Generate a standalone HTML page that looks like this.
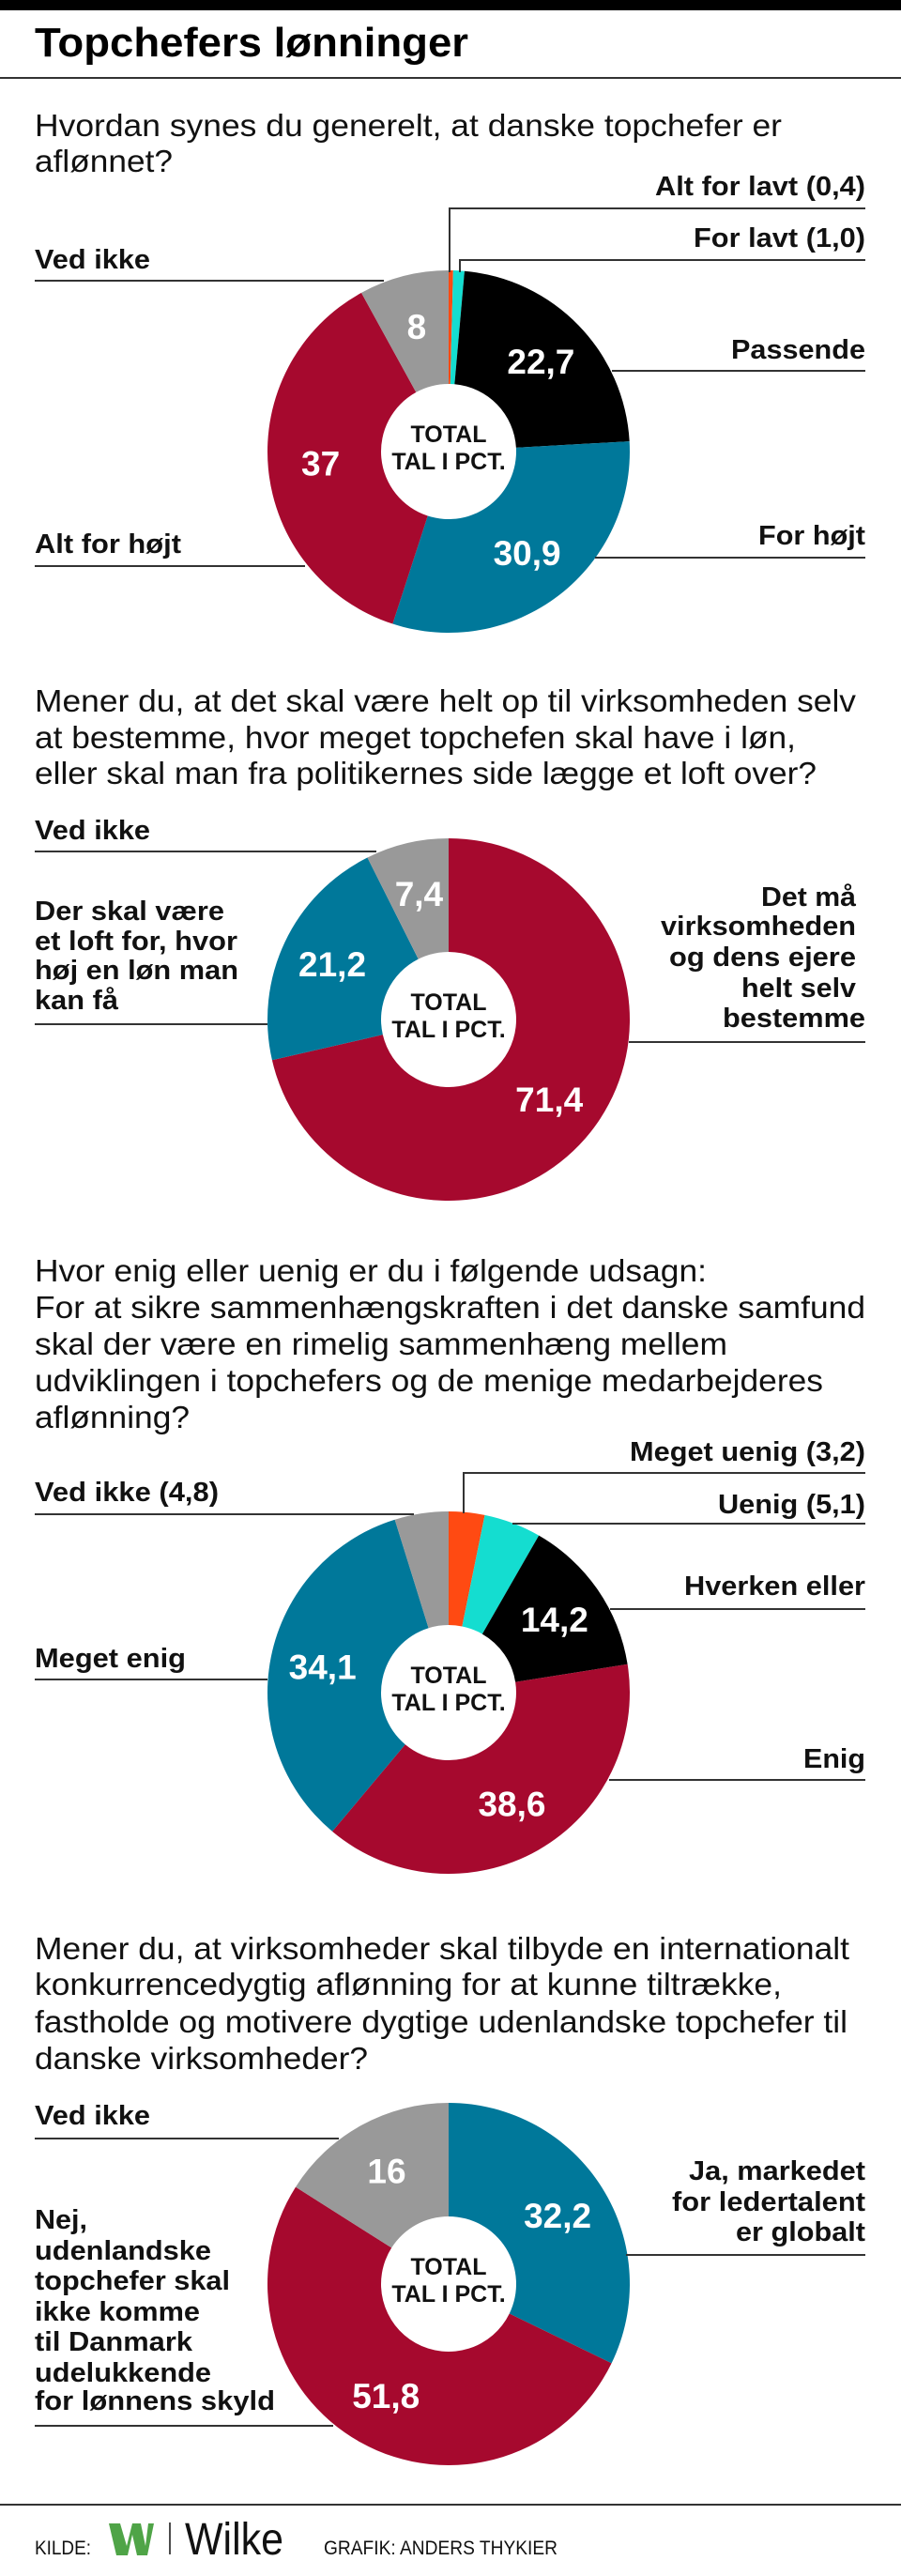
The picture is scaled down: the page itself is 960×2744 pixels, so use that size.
<!DOCTYPE html>
<html><head><meta charset="utf-8"><style>
html,body{margin:0;padding:0;background:#fff;}
svg{display:block;}
text{font-family:"Liberation Sans",sans-serif;}
.q{font-size:33px;fill:#111;}
.l{font-size:29px;font-weight:bold;fill:#111;}
.v{font-size:37px;font-weight:bold;fill:#fff;text-anchor:middle;dominant-baseline:central;}
.c{font-size:25px;font-weight:bold;fill:#111;text-anchor:middle;}
.ln{stroke:#333;stroke-width:2;fill:none;}
</style></head><body>
<svg id="root" width="960" height="2744" viewBox="0 0 960 2744" xmlns="http://www.w3.org/2000/svg">
<rect x="0" y="0" width="960" height="11" fill="#000"/>
<text x="37" y="60" font-size="44" font-weight="bold" textLength="462" lengthAdjust="spacingAndGlyphs">Topchefers lønninger</text>
<line x1="0" y1="83" x2="960" y2="83" class="ln"/>

<!-- Chart 1 -->
<g>
<text class="q" x="37" y="145" textLength="796" lengthAdjust="spacingAndGlyphs">Hvordan synes du generelt, at danske topchefer er</text>
<text class="q" x="37" y="183" textLength="147" lengthAdjust="spacingAndGlyphs">aflønnet?</text>
</g>
<g id="pie1"></g>
<g>
<text class="l" x="698" y="208" textLength="224" lengthAdjust="spacingAndGlyphs">Alt for lavt (0,4)</text>
<polyline class="ln" points="479,290 479,222 922,222"/>
<text class="l" x="739" y="263" textLength="183" lengthAdjust="spacingAndGlyphs">For lavt (1,0)</text>
<polyline class="ln" points="490,290 490,277 922,277"/>
<text class="l" x="37" y="286" textLength="123" lengthAdjust="spacingAndGlyphs">Ved ikke</text>
<line class="ln" x1="37" y1="299" x2="409" y2="299"/>
<text class="l" x="779" y="382" textLength="143" lengthAdjust="spacingAndGlyphs">Passende</text>
<line class="ln" x1="652" y1="395" x2="922" y2="395"/>
<text class="l" x="37" y="589" textLength="156" lengthAdjust="spacingAndGlyphs">Alt for højt</text>
<line class="ln" x1="37" y1="603" x2="325" y2="603"/>
<text class="l" x="808" y="580" textLength="114" lengthAdjust="spacingAndGlyphs">For højt</text>
<line class="ln" x1="634" y1="594" x2="922" y2="594"/>
</g>

<!-- Chart 2 -->
<g>
<text class="q" x="37" y="758" textLength="875" lengthAdjust="spacingAndGlyphs">Mener du, at det skal være helt op til virksomheden selv</text>
<text class="q" x="37" y="797" textLength="811" lengthAdjust="spacingAndGlyphs">at bestemme, hvor meget topchefen skal have i løn,</text>
<text class="q" x="37" y="835" textLength="833" lengthAdjust="spacingAndGlyphs">eller skal man fra politikernes side lægge et loft over?</text>
</g>
<g id="pie2"></g>
<g>
<text class="l" x="37" y="894" textLength="123" lengthAdjust="spacingAndGlyphs">Ved ikke</text>
<line class="ln" x1="37" y1="907" x2="401" y2="907"/>
<g>
<text class="l" x="37" y="980" textLength="202" lengthAdjust="spacingAndGlyphs">Der skal være</text>
<text class="l" x="37" y="1012" textLength="216" lengthAdjust="spacingAndGlyphs">et loft for, hvor</text>
<text class="l" x="37" y="1043" textLength="217" lengthAdjust="spacingAndGlyphs">høj en løn man</text>
<text class="l" x="37" y="1075" textLength="89" lengthAdjust="spacingAndGlyphs">kan få</text>
</g>
<line class="ln" x1="37" y1="1091" x2="285" y2="1091"/>
<g>
<text class="l" x="811" y="965" textLength="101" lengthAdjust="spacingAndGlyphs">Det må</text>
<text class="l" x="704" y="996" textLength="208" lengthAdjust="spacingAndGlyphs">virksomheden</text>
<text class="l" x="713" y="1029" textLength="199" lengthAdjust="spacingAndGlyphs">og dens ejere</text>
<text class="l" x="790" y="1062" textLength="122" lengthAdjust="spacingAndGlyphs">helt selv</text>
<text class="l" x="770" y="1094" textLength="152" lengthAdjust="spacingAndGlyphs">bestemme</text>
</g>
<line class="ln" x1="670" y1="1110" x2="922" y2="1110"/>
</g>

<!-- Chart 3 -->
<g>
<text class="q" x="37" y="1365" textLength="716" lengthAdjust="spacingAndGlyphs">Hvor enig eller uenig er du i følgende udsagn:</text>
<text class="q" x="37" y="1404" textLength="885" lengthAdjust="spacingAndGlyphs">For at sikre sammenhængskraften i det danske samfund</text>
<text class="q" x="37" y="1443" textLength="738" lengthAdjust="spacingAndGlyphs">skal der være en rimelig sammenhæng mellem</text>
<text class="q" x="37" y="1482" textLength="840" lengthAdjust="spacingAndGlyphs">udviklingen i topchefers og de menige medarbejderes</text>
<text class="q" x="37" y="1521" textLength="165" lengthAdjust="spacingAndGlyphs">aflønning?</text>
</g>
<g id="pie3"></g>
<g>
<text class="l" x="671" y="1556" textLength="251" lengthAdjust="spacingAndGlyphs">Meget uenig (3,2)</text>
<polyline class="ln" points="494,1612 494,1569 922,1569"/>
<text class="l" x="765" y="1612" textLength="157" lengthAdjust="spacingAndGlyphs">Uenig (5,1)</text>
<line class="ln" x1="546" y1="1623" x2="922" y2="1623"/>
<text class="l" x="37" y="1599" textLength="196" lengthAdjust="spacingAndGlyphs">Ved ikke (4,8)</text>
<line class="ln" x1="37" y1="1613" x2="441" y2="1613"/>
<text class="l" x="729" y="1699" textLength="193" lengthAdjust="spacingAndGlyphs">Hverken eller</text>
<line class="ln" x1="650" y1="1714" x2="922" y2="1714"/>
<text class="l" x="37" y="1776" textLength="161" lengthAdjust="spacingAndGlyphs">Meget enig</text>
<line class="ln" x1="37" y1="1789" x2="285" y2="1789"/>
<text class="l" x="856" y="1883" textLength="66" lengthAdjust="spacingAndGlyphs">Enig</text>
<line class="ln" x1="649" y1="1896" x2="922" y2="1896"/>
</g>

<!-- Chart 4 -->
<g>
<text class="q" x="37" y="2087" textLength="868" lengthAdjust="spacingAndGlyphs">Mener du, at virksomheder skal tilbyde en internationalt</text>
<text class="q" x="37" y="2125" textLength="796" lengthAdjust="spacingAndGlyphs">konkurrencedygtig aflønning for at kunne tiltrække,</text>
<text class="q" x="37" y="2165" textLength="866" lengthAdjust="spacingAndGlyphs">fastholde og motivere dygtige udenlandske topchefer til</text>
<text class="q" x="37" y="2204" textLength="355" lengthAdjust="spacingAndGlyphs">danske virksomheder?</text>
</g>
<g id="pie4"></g>
<g>
<text class="l" x="37" y="2263" textLength="123" lengthAdjust="spacingAndGlyphs">Ved ikke</text>
<line class="ln" x1="37" y1="2278" x2="361" y2="2278"/>
<g>
<text class="l" x="37" y="2374" textLength="56" lengthAdjust="spacingAndGlyphs">Nej,</text>
<text class="l" x="37" y="2407" textLength="188" lengthAdjust="spacingAndGlyphs">udenlandske</text>
<text class="l" x="37" y="2439" textLength="208" lengthAdjust="spacingAndGlyphs">topchefer skal</text>
<text class="l" x="37" y="2472" textLength="176" lengthAdjust="spacingAndGlyphs">ikke komme</text>
<text class="l" x="37" y="2504" textLength="168" lengthAdjust="spacingAndGlyphs">til Danmark</text>
<text class="l" x="37" y="2537" textLength="188" lengthAdjust="spacingAndGlyphs">udelukkende</text>
<text class="l" x="37" y="2567" textLength="256" lengthAdjust="spacingAndGlyphs">for lønnens skyld</text>
</g>
<line class="ln" x1="37" y1="2584" x2="355" y2="2584"/>
<g>
<text class="l" x="734" y="2322" textLength="188" lengthAdjust="spacingAndGlyphs">Ja, markedet</text>
<text class="l" x="716" y="2355" textLength="206" lengthAdjust="spacingAndGlyphs">for ledertalent</text>
<text class="l" x="784" y="2387" textLength="138" lengthAdjust="spacingAndGlyphs">er globalt</text>
</g>
<line class="ln" x1="667" y1="2402" x2="922" y2="2402"/>
</g>

<!-- Footer -->
<line x1="0" y1="2668" x2="960" y2="2668" class="ln"/>
<text x="37" y="2721" font-size="21" textLength="60" lengthAdjust="spacingAndGlyphs" fill="#111">KILDE:</text>
<g>
<path d="M116,2688 L128,2688 L135,2712 L141,2688 L150,2688 L155,2712 L158,2688 L164,2688 L157,2722 L146,2722 L141,2700 L136,2722 L124,2722 Z" fill="#4fa447"/>
<line x1="181" y1="2687" x2="181" y2="2721" stroke="#111" stroke-width="1.5"/>
<text x="197" y="2721" font-size="48" textLength="105" lengthAdjust="spacingAndGlyphs" fill="#111">Wilke</text>
</g>
<text x="345" y="2721" font-size="21" textLength="249" lengthAdjust="spacingAndGlyphs" fill="#111">GRAFIK: ANDERS THYKIER</text>
</svg>
<script>
// Chart data
const values1 = [0.4, 1.0, 22.7, 30.9, 37, 8];
const labels1 = ["", "", "22,7", "30,9", "37", "8"];
const colors1 = ["#ff4a12", "#14ddd0", "#000000", "#00789a", "#a6092e", "#999999"];
const values2 = [71.4, 21.2, 7.4];
const labels2 = ["71,4", "21,2", "7,4"];
const colors2 = ["#a6092e", "#00789a", "#999999"];
const values3 = [3.2, 5.1, 14.2, 38.6, 34.1, 4.8];
const labels3 = ["", "", "14,2", "38,6", "34,1", ""];
const colors3 = ["#ff4a12", "#14ddd0", "#000000", "#a6092e", "#00789a", "#999999"];
const values4 = [32.2, 51.8, 16];
const labels4 = ["32,2", "51,8", "16"];
const colors4 = ["#00789a", "#a6092e", "#999999"];

const NS = "http://www.w3.org/2000/svg";
const R = 193, RI = 72, RL = 137;
function pt(cx, cy, r, a){ return [cx + r*Math.sin(a), cy - r*Math.cos(a)]; }
function drawDonut(id, cx, cy, vals, labs, cols){
  const g = document.getElementById(id);
  const total = vals.reduce((s,v)=>s+v,0);
  let acc = 0;
  vals.forEach((v,i)=>{
    const a0 = acc/total*2*Math.PI; acc += v; const a1 = acc/total*2*Math.PI;
    const large = (a1-a0) > Math.PI ? 1 : 0;
    const p0 = pt(cx,cy,R,a0), p1 = pt(cx,cy,R,a1), q1 = pt(cx,cy,RI,a1), q0 = pt(cx,cy,RI,a0);
    const path = document.createElementNS(NS,"path");
    path.setAttribute("d", `M${p0[0]},${p0[1]} A${R},${R} 0 ${large} 1 ${p1[0]},${p1[1]} L${q1[0]},${q1[1]} A${RI},${RI} 0 ${large} 0 ${q0[0]},${q0[1]} Z`);
    path.setAttribute("fill", cols[i]);
    
    
    g.appendChild(path);
    if (labs[i]) {
      const m = pt(cx,cy,RL,(a0+a1)/2);
      const t = document.createElementNS(NS,"text");
      t.setAttribute("class","v"); t.setAttribute("x",m[0]); t.setAttribute("y",m[1]);
      t.textContent = labs[i];
      
      
      g.appendChild(t);
    }
  });
  const t1 = document.createElementNS(NS,"text");
  t1.setAttribute("class","c"); t1.setAttribute("x",cx); t1.setAttribute("y",cy-10);
  t1.textContent = "TOTAL";
  
  
  g.appendChild(t1);
  const t2 = document.createElementNS(NS,"text");
  t2.setAttribute("class","c"); t2.setAttribute("x",cx); t2.setAttribute("y",cy+19);
  t2.textContent = "TAL I PCT.";
  
  
  g.appendChild(t2);
}
drawDonut("pie1", 478, 481, values1, labels1, colors1);
drawDonut("pie2", 478, 1086, values2, labels2, colors2);
drawDonut("pie3", 478, 1803, values3, labels3, colors3);
drawDonut("pie4", 478, 2433, values4, labels4, colors4);
</script>
</body></html>
